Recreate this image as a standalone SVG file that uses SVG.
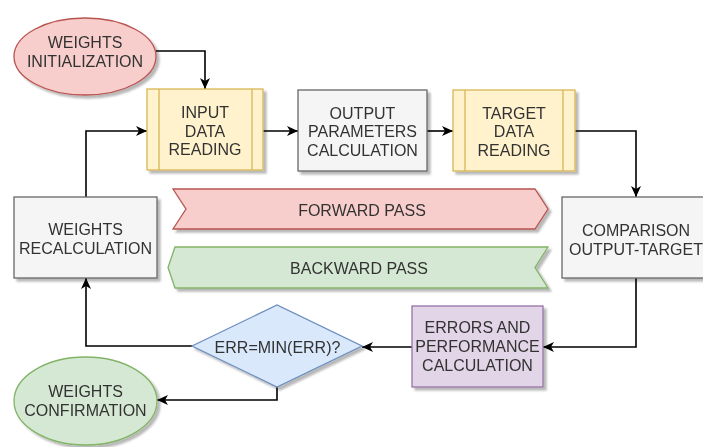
<svg xmlns="http://www.w3.org/2000/svg" width="703" height="447" viewBox="0 0 703 447">
  <style>
    .lbl { font-family: "Liberation Sans", Arial, Helvetica, sans-serif; font-size: 16px; fill: #333333; text-anchor: middle; }
    .pink { fill: #f8cecc; stroke: #b85450; stroke-width: 1.3; }
    .yellow { fill: #fff2cc; stroke: #d6b656; stroke-width: 1.3; }
    .gray { fill: #f5f5f5; stroke: #666666; stroke-width: 1.3; }
    .green { fill: #d5e8d4; stroke: #82b366; stroke-width: 1.3; }
    .blue { fill: #dae8fc; stroke: #6c8ebf; stroke-width: 1.3; }
    .purple { fill: #e1d5e7; stroke: #9673a6; stroke-width: 1.3; }
    .shape { filter: url(#shadow); }
    .edge { fill: none; stroke: #000000; stroke-width: 1.6; marker-end: url(#arrow); }
  </style>
  <defs>
    <filter id="shadow" x="-10%" y="-10%" width="130%" height="140%">
      <feOffset in="SourceAlpha" dx="3" dy="3"/>
      <feGaussianBlur stdDeviation="0.8"/>
      <feComponentTransfer><feFuncA type="linear" slope="0.28"/></feComponentTransfer>
      <feMerge><feMergeNode/><feMergeNode in="SourceGraphic"/></feMerge>
    </filter>
    <marker id="arrow" markerUnits="userSpaceOnUse" markerWidth="13" markerHeight="12" refX="12" refY="6" orient="auto">
      <path d="M1,1 L12,6 L1,11 L4,6 Z" fill="#000000"/>
    </marker>
  </defs>

  <rect width="703" height="447" fill="#ffffff"/>

  <!-- connectors -->
  <g id="connectors">
    <path class="edge" d="M156,51 H205 V89"/>
    <path class="edge" d="M86,197 V131 H147"/>
    <path class="edge" d="M263,131 H298"/>
    <path class="edge" d="M427,131 H453"/>
    <path class="edge" d="M575,131 H636 V197"/>
    <path class="edge" d="M636,278 V347 H543"/>
    <path class="edge" d="M412,347 H362"/>
    <path class="edge" d="M192,346 H86 V278"/>
    <path class="edge" d="M277,387 V400 H157"/>
  </g>

  <g id="weights-init" class="shape">
    <ellipse class="pink" cx="85" cy="56.5" rx="71" ry="38.5"/>
    <text class="lbl" x="85" y="48">WEIGHTS</text>
    <text class="lbl" x="85" y="67">INITIALIZATION</text>
  </g>

  <g id="input-data" class="shape">
    <rect class="yellow" x="147" y="89" width="116" height="81"/>
    <path class="yellow" d="M159,89 V170 M252,89 V170" fill="none"/>
    <text class="lbl" x="205" y="118">INPUT</text>
    <text class="lbl" x="205" y="137">DATA</text>
    <text class="lbl" x="205" y="155">READING</text>
  </g>

  <g id="output-params" class="shape">
    <rect class="gray" x="298" y="90" width="129" height="81"/>
    <text class="lbl" x="362.5" y="119">OUTPUT</text>
    <text class="lbl" x="362.5" y="137">PARAMETERS</text>
    <text class="lbl" x="362.5" y="156">CALCULATION</text>
  </g>

  <g id="target-data" class="shape">
    <rect class="yellow" x="453" y="90" width="122" height="81"/>
    <path class="yellow" d="M465,90 V171 M563,90 V171" fill="none"/>
    <text class="lbl" x="514" y="119">TARGET</text>
    <text class="lbl" x="514" y="137">DATA</text>
    <text class="lbl" x="514" y="156">READING</text>
  </g>

  <g id="forward-pass" class="shape">
    <polygon class="pink" points="173,189 535,189 548,209 535,229 173,229 186,209"/>
    <text class="lbl" x="362" y="215.5">FORWARD PASS</text>
  </g>

  <g id="backward-pass" class="shape">
    <polygon class="green" points="175,247 548,247 535,267.5 548,288 175,288 168,267.5"/>
    <text class="lbl" x="359" y="273.5">BACKWARD PASS</text>
  </g>

  <g id="comparison" class="shape">
    <rect class="gray" x="562" y="197" width="148" height="81"/>
    <text class="lbl" x="636" y="235.5">COMPARISON</text>
    <text class="lbl" x="636" y="255">OUTPUT-TARGET</text>
  </g>

  <g id="weights-recalc" class="shape">
    <rect class="gray" x="14" y="197" width="143" height="81"/>
    <text class="lbl" x="85.5" y="235">WEIGHTS</text>
    <text class="lbl" x="85.5" y="253.5">RECALCULATION</text>
  </g>

  <g id="errors" class="shape">
    <rect class="purple" x="412" y="306" width="131" height="81"/>
    <text class="lbl" x="477.5" y="333">ERRORS AND</text>
    <text class="lbl" x="477.5" y="352">PERFORMANCE</text>
    <text class="lbl" x="477.5" y="370.5">CALCULATION</text>
  </g>

  <g id="err-min" class="shape">
    <polygon class="blue" points="192,346 277,305 362,346 277,387"/>
    <text class="lbl" x="277.5" y="352.5">ERR=MIN(ERR)?</text>
  </g>

  <g id="weights-confirm" class="shape">
    <ellipse class="green" cx="85.5" cy="401" rx="71.5" ry="44"/>
    <text class="lbl" x="85.5" y="396.5">WEIGHTS</text>
    <text class="lbl" x="85.5" y="416">CONFIRMATION</text>
  </g>
</svg>
